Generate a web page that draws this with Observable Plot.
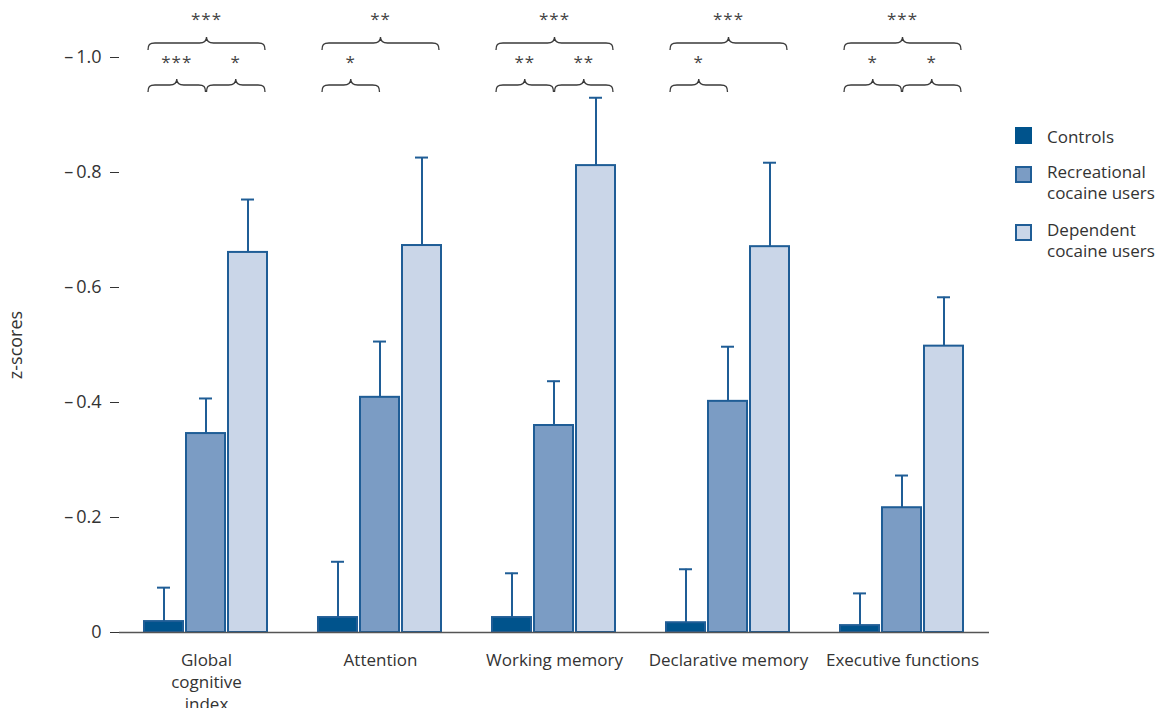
<!DOCTYPE html>
<html>
<head>
<meta charset="utf-8">
<script src="https://cdn.jsdelivr.net/npm/d3@7"></script>
<script src="https://cdn.jsdelivr.net/npm/@observablehq/plot@0.6"></script>
<style>
  html, body { margin: 0; padding: 0; background: #fff; }
  #wrap { position: relative; width: 1161px; height: 708px; font-family: "Open Sans", sans-serif; color: #333; }
  .item { position: absolute; left: 1015px; }
  .sw { position: absolute; left: 0; width: 17px; height: 17px; box-sizing: border-box; }
  .lab { position: absolute; left: 32px; font-size: 17px; line-height: 21px; white-space: nowrap; color: #333; }
</style>
</head>
<body>
<div id="wrap"></div>
<script>
// ---- data ----
const categories = ["Global\ncognitive\nindex", "Attention", "Working memory", "Declarative memory", "Executive functions"];
const series = ["Controls", "Recreational cocaine users", "Dependent cocaine users"];
const legendLabels = ["Controls", "Recreational\ncocaine users", "Dependent\ncocaine users"];

const controlsMean  = [-0.019, -0.026, -0.026, -0.017, -0.012];
const controlsUpper = [-0.078, -0.123, -0.103, -0.110, -0.068];
const recMean       = [-0.346, -0.409, -0.360, -0.402, -0.217];
const recUpper      = [-0.407, -0.506, -0.437, -0.497, -0.273];
const depMean       = [-0.661, -0.673, -0.812, -0.671, -0.498];
const depUpper      = [-0.753, -0.826, -0.930, -0.817, -0.583];

const yTicks = [0, -0.2, -0.4, -0.6, -0.8, -1.0];

// significance comparisons
const compCategory = [categories[0], categories[0], categories[0], categories[1], categories[1], categories[2], categories[2], categories[2], categories[3], categories[3], categories[4], categories[4], categories[4]];
const compFrom  = [series[0], series[0], series[1], series[0], series[0], series[0], series[0], series[1], series[0], series[0], series[0], series[0], series[1]];
const compTo    = [series[2], series[1], series[2], series[2], series[1], series[2], series[1], series[2], series[2], series[1], series[2], series[1], series[2]];
const compStars = ["***", "***", "*", "**", "*", "***", "**", "**", "***", "*", "***", "*", "*"];

const fills = ["#00538c", "#7b9cc4", "#cad6e8"];
const edge = "#1f5d96";

// ---- build tables ----
const means = [controlsMean, recMean, depMean];
const uppers = [controlsUpper, recUpper, depUpper];
const data = [];
categories.forEach((c, i) => {
  series.forEach((s, j) => {
    data.push({category: c, series: s, mean: means[j][i], upper: uppers[j][i]});
  });
});
const comparisons = compCategory.map((c, i) => ({category: c, from: compFrom[i], to: compTo[i], stars: compStars[i]}));

function bracePath(x0, x1, y) {
  const xm = (x0 + x1) / 2, h = 7, t = 6, r = 7;
  return `M${x0},${y + h} C${x0},${y + 1.5} ${x0 + 1.5},${y} ${x0 + r},${y}` +
         ` L${xm - r},${y} C${xm - 2.5},${y} ${xm},${y - 1.5} ${xm},${y - t}` +
         ` C${xm},${y - 1.5} ${xm + 2.5},${y} ${xm + r},${y}` +
         ` L${x1 - r},${y} C${x1 - 1.5},${y} ${x1},${y + 1.5} ${x1},${y + h}`;
}

function braceRender(index, scales, values, dimensions) {
  const sx = scales.x;
  let bw;
  if (typeof sx.bandwidth === "function") bw = sx.bandwidth();
  else if (scales.scales && scales.scales.x && scales.scales.x.bandwidth) bw = scales.scales.x.bandwidth;
  else bw = (sx(series[1]) - sx(series[0])) * 0.93;
  const top = dimensions.marginTop;
  const g = d3.create("svg:g");
  for (const i of index) {
    const d = comparisons[i];
    const fi = series.indexOf(d.from), ti = series.indexOf(d.to);
    const x0 = sx(d.from) + (fi === 0 ? 4 : bw / 2 + 1);
    const x1 = sx(d.to) + (ti === series.length - 1 ? bw - 2 : bw / 2);
    const outer = fi === 0 && ti === series.length - 1;
    const yLine = outer ? top - 14 : top + 28;
    const yStar = outer ? top - 32 : top + 11;
    g.append("path").attr("d", bracePath(x0, x1, yLine))
      .attr("fill", "none").attr("stroke", "#3a3a3a").attr("stroke-width", 1.3);
    g.append("text").attr("x", (x0 + x1) / 2).attr("y", yStar)
      .attr("text-anchor", "middle").attr("font-size", 17).attr("fill", "#444")
      .attr("letter-spacing", "1px")
      .text(d.stars);
  }
  return g.node();
}

const fmt = d => d === 0 ? "0" : "\u2013\u2009" + Math.abs(d).toFixed(1);

const plot = Plot.plot({
  width: 1161,
  height: 708,
  marginLeft: 117,
  marginRight: 171,
  marginTop: 57,
  marginBottom: 76,
  style: {fontFamily: "Open Sans, sans-serif", fontSize: "16px", color: "#333", background: "#fff"},
  fx: {domain: categories, paddingInner: 0, paddingOuter: 0, label: null},
  x: {domain: series, paddingInner: 0.07, paddingOuter: 0.565, axis: null},
  y: {domain: [0, -1], label: null},
  color: {domain: series, range: fills},
  marks: [
    Plot.axisY({ticks: yTicks, tickFormat: fmt, tickSize: 9, tickPadding: 9, line: true, stroke: "#333",
                label: "z-scores", labelArrow: "none", labelAnchor: "center", labelOffset: 110, fontSize: 18}),
    Plot.axisFx({anchor: "bottom", tickSize: 0, tickPadding: 18, label: null, fontSize: 17, lineHeight: 1.3}),
    Plot.barY(data, {fx: "category", x: "series", y: "mean", fill: "series", stroke: edge, strokeWidth: 2}),
    Plot.ruleX(data, {fx: "category", x: "series", y1: "mean", y2: "upper", stroke: edge, strokeWidth: 2}),
    Plot.tickY(data, {fx: "category", x: "series", y: "upper", stroke: edge, strokeWidth: 2, insetLeft: 13, insetRight: 13}),
    Plot.ruleY([0], {stroke: "#555", strokeWidth: 1.5}),
    Plot.dot(comparisons, {fx: "category", x: "from", render: braceRender})
  ]
});

const wrap = document.getElementById("wrap");
wrap.appendChild(plot);

// legend
const legendTops = [127, 166, 224];
series.forEach((s, i) => {
  const item = document.createElement("div");
  item.className = "item";
  item.style.top = legendTops[i] + "px";
  const sw = document.createElement("div");
  sw.className = "sw";
  sw.style.top = "0px";
  sw.style.background = fills[i];
  sw.style.border = "2px solid " + (i === 0 ? fills[0] : edge);
  const lab = document.createElement("div");
  lab.className = "lab";
  lab.style.top = (i === 0 ? -1.5 : -5.5) + "px";
  lab.innerHTML = legendLabels[i].split("\n").join("<br>");
  item.appendChild(sw);
  item.appendChild(lab);
  wrap.appendChild(item);
});
</script>
</body>
</html>
